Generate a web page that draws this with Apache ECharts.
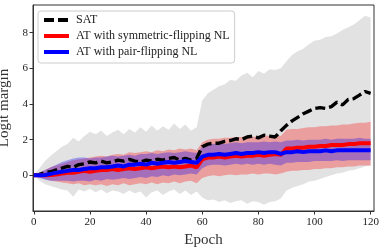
<!DOCTYPE html>
<html><head><meta charset="utf-8">
<script src="https://cdn.jsdelivr.net/npm/echarts@6/dist/echarts.min.js"></script>
<style>html,body{margin:0;padding:0;background:#fff}#c{width:385px;height:248px}</style>
</head><body><div id="c"></div>
<script>
var epochs = [0,2,4,6,8,10,12,14,16,18,20,22,24,26,28,30,32,34,36,38,40,42,44,46,48,50,52,54,56,58,60,62,64,66,68,70,72,74,76,78,80,82,84,86,88,90,92,94,96,98,100,102,104,106,108,110,112,114,116,118,120];
var xTicks = [0,20,40,60,80,100,120];
var yTicks = [0,2,4,6,8];
var satMean = [0,0.05,0.15,0.2,0.3,0.4,0.5,0.45,0.6,0.65,0.75,0.7,0.8,0.7,0.75,0.85,0.8,0.9,0.8,0.75,0.85,0.8,0.9,0.85,0.95,1.0,0.85,0.95,0.85,0.95,1.6,1.75,1.8,1.8,1.9,1.95,2.05,2.0,2.15,2.2,2.1,2.25,2.2,2.15,2.5,2.8,3.05,3.25,3.45,3.6,3.75,3.8,3.75,3.85,4.1,3.95,4.25,4.3,4.5,4.7,4.6];
var satHi = [0,0.4,0.8,1.1,1.35,1.6,1.75,2.1,1.9,2.2,2.45,2.3,2.5,2.2,2.4,2.55,2.3,2.6,2.4,2.7,2.45,2.8,2.5,2.75,2.55,2.9,2.6,2.85,2.5,2.7,4.2,4.6,4.8,5.0,5.1,5.35,5.3,5.6,5.75,5.5,5.85,5.7,5.95,5.9,6.0,6.4,6.75,6.95,7.1,7.35,7.55,7.6,7.75,7.8,7.95,8.15,8.3,8.45,8.7,8.95,8.85];
var satLo = [0,-0.3,-0.5,-0.6,-0.7,-0.8,-0.85,-1.2,-0.8,-0.9,-0.75,-0.95,-0.8,-1.0,-0.85,-0.9,-1.05,-0.85,-1.0,-0.9,-1.25,-0.95,-0.85,-1.1,-0.9,-0.8,-1.05,-0.85,-1.1,-0.9,-1.25,-1.4,-1.35,-1.5,-1.4,-1.55,-1.45,-1.4,-1.6,-1.45,-1.5,-1.65,-1.5,-1.45,-1.3,-0.85,-0.7,-0.6,-0.5,-0.35,-0.3,-0.2,-0.1,0.0,0.1,0.15,0.25,0.3,0.4,0.5,0.55];
var symMean = [0,0,0,0.02,0.05,0.1,0.15,0.15,0.2,0.25,0.2,0.25,0.3,0.3,0.35,0.3,0.35,0.4,0.35,0.4,0.45,0.4,0.45,0.5,0.45,0.5,0.45,0.5,0.55,0.45,0.9,1.0,1.0,1.05,1.0,1.05,1.1,1.05,1.1,1.1,1.15,1.1,1.15,1.2,1.15,1.5,1.5,1.55,1.55,1.6,1.6,1.65,1.65,1.7,1.7,1.7,1.75,1.75,1.8,1.8,1.8];
var symHi = [0,0.15,0.3,0.45,0.55,0.65,0.75,0.85,0.9,0.95,1.0,1.05,1.1,1.05,1.15,1.2,1.15,1.3,1.25,1.3,1.35,1.3,1.4,1.35,1.45,1.4,1.5,1.45,1.5,1.4,1.85,2.0,2.05,2.05,2.1,2.1,2.15,2.15,2.2,2.15,2.2,2.25,2.2,2.25,2.2,2.55,2.6,2.6,2.65,2.7,2.7,2.75,2.75,2.8,2.8,2.85,2.85,2.9,2.95,2.95,3.0];
var symLo = [0,-0.1,-0.2,-0.3,-0.35,-0.4,-0.45,-0.5,-0.45,-0.55,-0.5,-0.55,-0.5,-0.6,-0.5,-0.55,-0.45,-0.55,-0.5,-0.45,-0.5,-0.4,-0.5,-0.4,-0.45,-0.35,-0.45,-0.35,-0.3,-0.45,-0.15,-0.05,0.0,-0.05,0.0,0.05,0.0,0.05,0.05,0.1,0.05,0.1,0.1,0.05,0.1,0.2,0.25,0.25,0.3,0.3,0.35,0.35,0.4,0.4,0.45,0.45,0.5,0.5,0.55,0.55,0.55];
var pairMean = [0,0,0.02,0.08,0.15,0.2,0.25,0.3,0.3,0.35,0.4,0.4,0.45,0.45,0.5,0.55,0.5,0.6,0.6,0.65,0.6,0.7,0.65,0.7,0.75,0.7,0.75,0.8,0.75,0.7,1.05,1.15,1.15,1.2,1.15,1.2,1.25,1.2,1.25,1.25,1.3,1.25,1.3,1.3,1.2,1.3,1.3,1.35,1.3,1.35,1.35,1.35,1.4,1.35,1.4,1.4,1.4,1.4,1.4,1.4,1.4];
var pairHi = [0,0.15,0.3,0.45,0.6,0.75,0.85,0.95,1.0,1.0,0.95,1.0,1.0,1.05,1.1,1.05,1.1,1.15,1.1,1.2,1.2,1.25,1.2,1.25,1.3,1.25,1.3,1.35,1.3,1.25,1.6,1.75,1.75,1.8,1.75,1.8,1.85,1.8,1.85,1.85,1.85,1.9,1.85,1.9,1.85,1.95,1.95,2.0,1.95,2.0,2.0,2.0,2.05,2.0,2.05,2.05,2.05,2.05,2.1,2.05,2.05];
var pairLo = [0,-0.15,-0.25,-0.3,-0.3,-0.3,-0.3,-0.35,-0.3,-0.3,-0.35,-0.25,-0.3,-0.2,-0.25,-0.2,-0.15,-0.2,-0.15,-0.1,-0.15,-0.05,-0.1,0.0,-0.05,0.05,0.0,0.05,0.1,0.05,0.4,0.55,0.6,0.6,0.55,0.6,0.65,0.6,0.65,0.6,0.65,0.6,0.65,0.6,0.55,0.7,0.7,0.75,0.75,0.75,0.8,0.8,0.8,0.8,0.85,0.8,0.85,0.85,0.85,0.85,0.85];

var FONT = 'Liberation Serif';
function pts(arr){ return epochs.map(function(e,i){ return [e, arr[i]]; }); }
function band(id, lo, hi, color){
  return {
    type:'custom', name:id+'_band', silent:true, animation:false,
    data: epochs.map(function(e,i){ return [e, lo[i], hi[i]]; }),
    encode:{x:0, y:[1,2]},
    renderItem:function(params, api){
      if (params.dataIndex !== 0) return null;
      var poly = [];
      for (var i = 0; i < epochs.length; i++) poly.push(api.coord([epochs[i], hi[i]]));
      for (var j = epochs.length - 1; j >= 0; j--) poly.push(api.coord([epochs[j], lo[j]]));
      return {type:'polygon', shape:{points:poly}, style:{fill:color, stroke:null}};
    }
  };
}
var series = [
  band('sat', satLo, satHi, '#e2e2e2'),
  band('sym', symLo, symHi, 'rgba(255,0,0,0.3)'),
  band('pair', pairLo, pairHi, 'rgba(0,0,255,0.3)'),
  {type:'line', name:'SAT', data:pts(satMean), symbol:'none', lineStyle:{color:'#000', width:3.4, type:[10,4]}, itemStyle:{color:'#000'}, animation:false},
  {type:'line', name:'AT with symmetric-flipping NL', data:pts(symMean), symbol:'none', lineStyle:{color:'#ff0000', width:4}, itemStyle:{color:'#ff0000'}, animation:false},
  {type:'line', name:'AT with pair-flipping NL', data:pts(pairMean), symbol:'none', lineStyle:{color:'#0000ff', width:4}, itemStyle:{color:'#0000ff'}, animation:false}
];

var chart = echarts.init(document.getElementById('c'), null, {renderer:'canvas'});
chart.setOption({
  backgroundColor:'#fff',
  animation:false,
  grid:{left:33, right:11, top:5, bottom:37, containLabel:false, outerBoundsMode:'none', show:true, borderColor:'#333', borderWidth:1, backgroundColor:'transparent'},
  legend:{
    data:['SAT','AT with symmetric-flipping NL','AT with pair-flipping NL'],
    orient:'vertical', left:38, top:11, itemWidth:25, itemHeight:12, itemGap:4,
    padding:[3,5,5,4], backgroundColor:'rgba(255,255,255,0.85)', borderColor:'#cccccc', borderWidth:1, borderRadius:3,
    itemStyle:{opacity:0},
    lineStyle:{width:4},
    textStyle:{fontFamily:FONT, fontSize:12, color:'#222', padding:[0,0,0,2]}
  },
  xAxis:{type:'value', min:-0.3, max:121.2,
    name:'Epoch', nameLocation:'middle', nameGap:19, nameTextStyle:{fontFamily:FONT, fontSize:15, color:'#333'},
    axisLine:{show:true, onZero:false, lineStyle:{color:'#333', width:1}},
    axisTick:{show:true, length:3.5, lineStyle:{color:'#333'}, customValues:xTicks},
    axisLabel:{fontFamily:FONT, fontSize:11, color:'#222', margin:5.5, customValues:xTicks},
    splitLine:{show:false}},
  yAxis:{type:'value', min:-2.0, max:9.55,
    name:'Logit margin', nameLocation:'middle', nameGap:12, nameTextStyle:{fontFamily:FONT, fontSize:15, color:'#333'},
    axisLine:{show:true, onZero:false, lineStyle:{color:'#333', width:1}},
    axisTick:{show:true, length:3.5, lineStyle:{color:'#333'}, customValues:yTicks},
    axisLabel:{fontFamily:FONT, fontSize:11, color:'#222', margin:5, customValues:yTicks},
    splitLine:{show:false}},
  series:series
});
</script></body></html>
